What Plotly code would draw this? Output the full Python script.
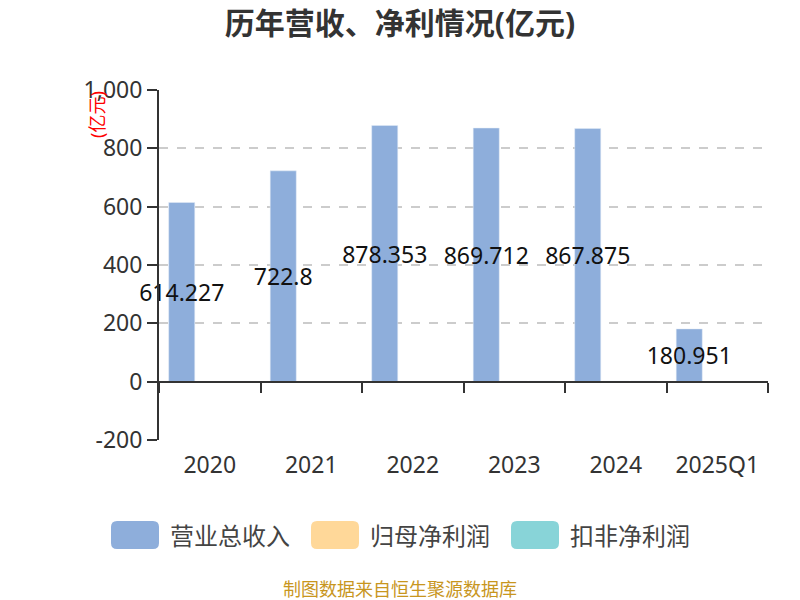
import plotly.graph_objects as go

categories = ["2020", "2021", "2022", "2023", "2024", "2025Q1"]
revenue = [614.227, 722.8, 878.353, 869.712, 867.875, 180.951]
net_profit = [0.4, 0.3, 0.4, 1.6, 1.8, 0.3]
deducted_profit = [1.2, 0.2, 0.3, 2.0, 2.2, 0.9]
series_names = ["营业总收入", "归母净利润", "扣非净利润"]
colors = ["#8eaedb", "#ffd899", "#88d4d8"]
y_ticks = [-200, 0, 200, 400, 600, 800, 1000]
y_min, y_max = -200, 1000

FONT = "Noto Sans, Noto Sans CJK SC, sans-serif"

# page is shown with an 8px body margin; work in reference pixels minus 8
OFF = 8
W, H = 800, 600
L, T = 159 - OFF, 90 - OFF
PR, PB = 768 - OFF, 440 - OFF
R, B = W - PR, H - PB
pw, ph = PR - L, PB - T

fig = go.Figure()
fig.add_trace(go.Bar(
    x=categories, y=revenue, name=series_names[0], marker_color=colors[0],
    text=[str(v) for v in revenue], textposition="inside", insidetextanchor="middle",
    constraintext="none", textangle=0, cliponaxis=False,
    insidetextfont=dict(color="#111", size=23, family=FONT),
))
fig.add_trace(go.Bar(x=categories, y=net_profit, name=series_names[1], marker_color=colors[1]))
fig.add_trace(go.Bar(x=categories, y=deducted_profit, name=series_names[2], marker_color=colors[2]))

zero_pos = (0 - y_min) / (y_max - y_min)

fig.update_layout(
    width=W, height=H,
    margin=dict(l=L, r=R, t=T, b=B, autoexpand=False),
    paper_bgcolor="white", plot_bgcolor="white",
    barmode="group", bargap=0.172, bargroupgap=0.07,
    showlegend=False,
    font=dict(family=FONT, color="#333"),
    title=dict(text="<b>历年营收、净利情况(亿元)</b>", x=(400 - OFF) / W, xref="container",
               xanchor="center", yref="container",
               y=1 - (23 - OFF) / H, yanchor="middle",
               font=dict(size=30, color="#333", family=FONT)),
    xaxis=dict(
        type="category", anchor="free", position=zero_pos,
        showline=True, linecolor="#333", linewidth=2,
        ticks="outside", tickson="boundaries", ticklen=10, tickwidth=2, tickcolor="#333",
        ticklabelstandoff=63,
        tickfont=dict(size=23, color="#333", family=FONT),
        showgrid=False, zeroline=False,
    ),
    yaxis=dict(
        range=[y_min, y_max],
        tickmode="array", tickvals=y_ticks, ticktext=[f"{v:,}" for v in y_ticks],
        showline=True, linecolor="#333", linewidth=2,
        ticks="outside", ticklen=10, tickwidth=2, tickcolor="#333",
        tickfont=dict(size=23, color="#333", family=FONT),
        showgrid=True, gridcolor="#cccccc", griddash="dash", gridwidth=1.5,
        zeroline=False,
    ),
)


def px_x(p):
    return (p - OFF - L) / pw


def px_y(p):
    return (PB - (p - OFF)) / ph


# y axis name
fig.add_annotation(text="(亿元)", xref="paper", yref="paper",
                   x=px_x(97), y=px_y(115), xanchor="center", yanchor="middle",
                   showarrow=False,
                   textangle=-90, font=dict(size=18, color="red", family=FONT))


def rounded_rect(x0, y0, x1, y1, r):
    X0, X1 = px_x(x0), px_x(x1)
    Y0, Y1 = px_y(y0), px_y(y1)
    rx, ry = r / pw, r / ph
    return (f"M {X0+rx},{Y0} L {X1-rx},{Y0} Q {X1},{Y0} {X1},{Y0-ry} "
            f"L {X1},{Y1+ry} Q {X1},{Y1} {X1-rx},{Y1} L {X0+rx},{Y1} "
            f"Q {X0},{Y1} {X0},{Y1+ry} L {X0},{Y0-ry} Q {X0},{Y0} {X0+rx},{Y0} Z")


legend_x = [111, 311, 511]
for i, name in enumerate(series_names):
    x0 = legend_x[i]
    fig.add_shape(type="path", xref="paper", yref="paper",
                  path=rounded_rect(x0, 521, x0 + 48, 549, 6),
                  fillcolor=colors[i], line=dict(width=0))
    fig.add_annotation(text=name, xref="paper", yref="paper",
                       x=px_x(x0 + 57), y=px_y(535), xanchor="left", yanchor="middle",
                       showarrow=False, font=dict(size=24, color="#444", family=FONT))

fig.add_annotation(text="制图数据来自恒生聚源数据库", xref="paper", yref="paper",
                   x=px_x(400), y=px_y(589), xanchor="center", yanchor="middle",
                   showarrow=False, font=dict(size=18, color="#c8961e", family=FONT))

fig.write_html("out.html")
